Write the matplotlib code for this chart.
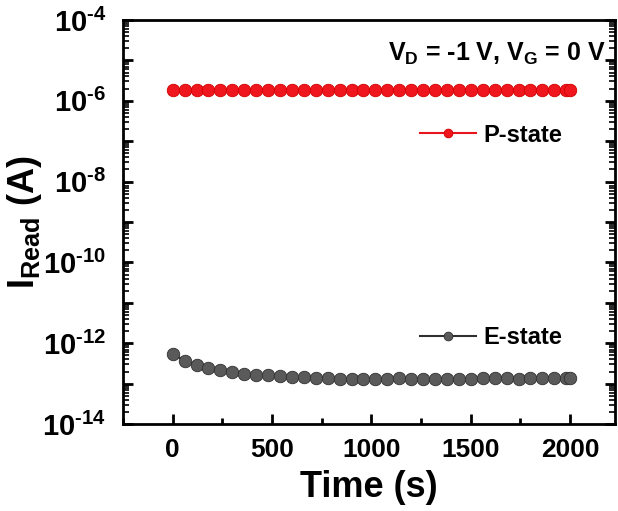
import matplotlib
matplotlib.use("Agg")
import matplotlib.pyplot as plt
from matplotlib.ticker import LogLocator, FixedLocator, MultipleLocator, NullFormatter
import numpy as np

plt.rcParams['font.family'] = ['Liberation Sans', 'DejaVu Sans']
plt.rcParams['font.weight'] = 'bold'
plt.rcParams['mathtext.fontset'] = 'custom'
plt.rcParams['mathtext.rm'] = 'Liberation Sans:bold'
plt.rcParams['mathtext.it'] = 'Liberation Sans:bold'
plt.rcParams['mathtext.bf'] = 'Liberation Sans:bold'
plt.rcParams['mathtext.default'] = 'regular'

time_s = [0, 60, 120, 180, 240, 300, 360, 420, 480, 540, 600, 660, 720, 780, 840,
          900, 960, 1020, 1080, 1140, 1200, 1260, 1320, 1380, 1440, 1500, 1560,
          1620, 1680, 1740, 1800, 1860, 1920, 1980, 2000]
p_state = [1.9e-6] * 35
e_state = [5.5e-13, 3.7e-13, 2.9e-13, 2.45e-13, 2.15e-13, 1.95e-13, 1.7e-13,
           1.65e-13, 1.6e-13, 1.55e-13, 1.5e-13, 1.45e-13, 1.4e-13, 1.35e-13,
           1.33e-13, 1.3e-13, 1.32e-13, 1.33e-13, 1.32e-13, 1.35e-13, 1.34e-13,
           1.3e-13, 1.28e-13, 1.3e-13, 1.32e-13, 1.34e-13, 1.35e-13, 1.36e-13,
           1.35e-13, 1.33e-13, 1.35e-13, 1.36e-13, 1.37e-13, 1.4e-13, 1.4e-13]
x_ticks = [0, 500, 1000, 1500, 2000]
y_exponents = [-14, -13, -12, -11, -10, -9, -8, -7, -6, -5, -4]
y_labels = ['$10^{\\text{-}14}$', '', '$10^{\\text{-}12}$', '', '$10^{\\text{-}10}$', '',
            '$10^{\\text{-}8}$', '', '$10^{\\text{-}6}$', '', '$10^{\\text{-}4}$']

fig = plt.figure(figsize=(6.18, 5.11), dpi=100)
ax = fig.add_axes([0.199, 0.170, 0.796, 0.791])

p_line, = ax.plot(time_s, p_state, color='#e8141b', lw=1.5, marker='o', ms=9,
                  mfc='#f0161e', mec='#d00000', mew=0.6, label='P-state')
e_line, = ax.plot(time_s, e_state, color='#303030', lw=1.5, marker='o', ms=9,
                  mfc='#5a5a5a', mec='#303030', mew=0.6, label='E-state')

ax.set_yscale('log')
ax.set_xlim(-250, 2225)
ax.set_ylim(1e-14, 1e-4)

ax.xaxis.set_major_locator(FixedLocator(x_ticks))
ax.xaxis.set_minor_locator(MultipleLocator(250))
ax.set_xticklabels([str(v) for v in x_ticks])
ax.set_yticks([10.0 ** k for k in y_exponents])
ax.set_yticklabels(y_labels)
ax.yaxis.set_minor_locator(LogLocator(base=10, subs=np.arange(2, 10), numticks=30))
ax.yaxis.set_minor_formatter(NullFormatter())

ax.tick_params(axis='both', which='major', direction='in', length=7, width=2)
ax.tick_params(axis='x', which='major', labelsize=19, pad=10)
ax.tick_params(axis='y', which='major', labelsize=21, pad=12)
ax.tick_params(axis='y', which='minor', direction='in', length=4, width=1.2)
ax.tick_params(axis='x', which='minor', direction='in', length=4, width=2)
ax.tick_params(axis='y', which='both', right=True)
for s in ax.spines.values():
    s.set_linewidth(2)

ax.set_xlabel('Time (s)', fontsize=26, fontweight='bold', labelpad=6)
ax.set_ylabel('$I_{Read}$ (A)', fontsize=26, fontweight='bold')
ax.yaxis.set_label_coords(-0.16, 0.5)

ax.text(0.98, 0.915, '$V_D$ = -1 V, $V_G$ = 0 V', transform=ax.transAxes,
        ha='right', va='center', fontsize=18, fontweight='bold')

leg1 = ax.legend(handles=[p_line], loc='center left', bbox_to_anchor=(0.56, 0.715),
                 frameon=False, fontsize=17, handlelength=2.4, handletextpad=0.3,
                 markerscale=0.7)
ax.add_artist(leg1)
leg2 = ax.legend(handles=[e_line], loc='center left', bbox_to_anchor=(0.56, 0.214),
                 frameon=False, fontsize=17, handlelength=2.4, handletextpad=0.3,
                 markerscale=0.7)
for leg in (leg1, leg2):
    for t in leg.get_texts():
        t.set_fontweight('bold')

fig.savefig('out.png', dpi=100)
